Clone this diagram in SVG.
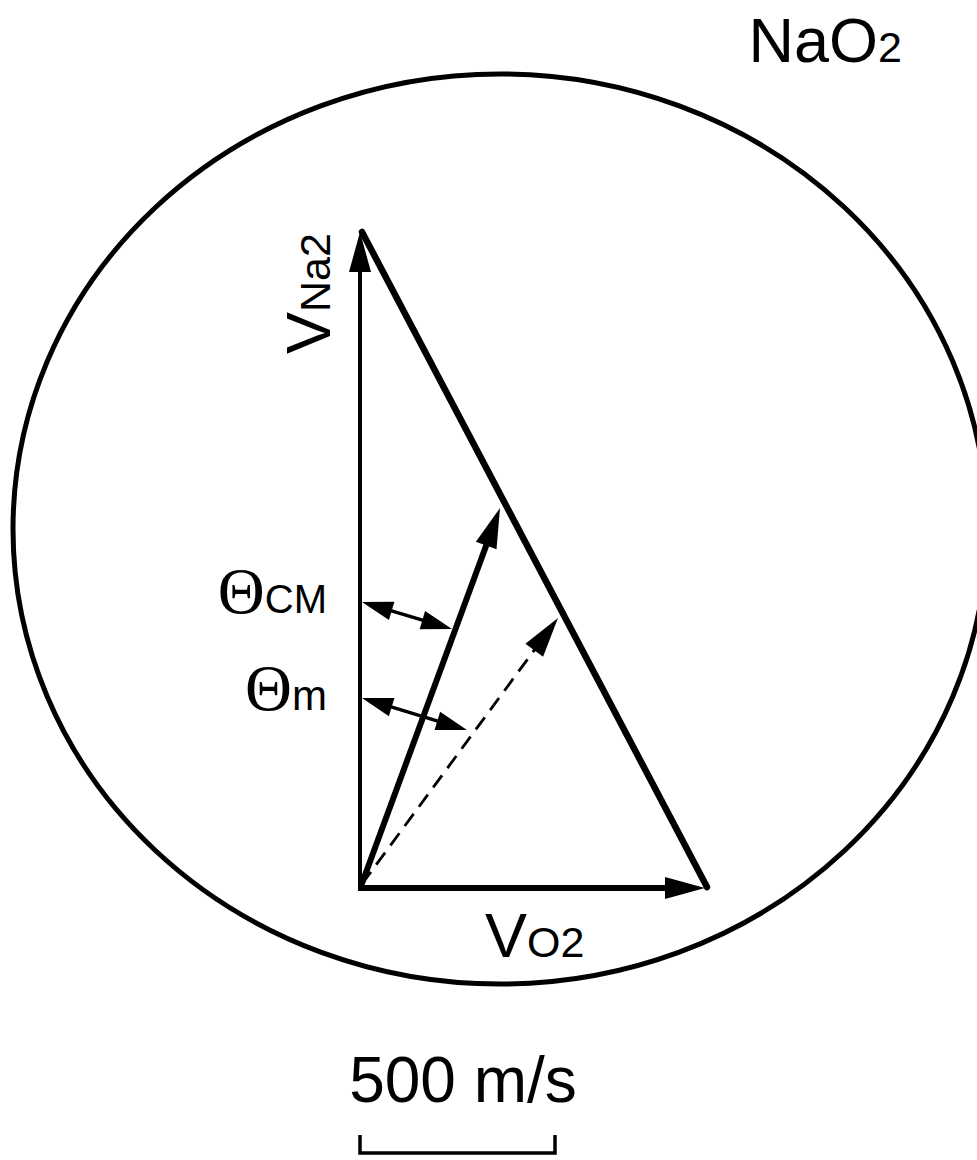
<svg xmlns="http://www.w3.org/2000/svg" width="977" height="1160" viewBox="0 0 977 1160">
<style>
.lbl{font-family:"Liberation Sans",Arial,Helvetica,sans-serif;fill:#000}
.th{font-family:"Liberation Serif","Times New Roman",serif;fill:#000}
.big{font-size:63px}
.sub{font-size:43px}
.ln{stroke:#000;fill:none}
</style>
<defs>
<marker id="ah" markerUnits="userSpaceOnUse" viewBox="-22 -13 44 26" markerWidth="44" markerHeight="26" refX="0" refY="0" orient="auto" overflow="visible">
<path d="M-20,-11 L20,0 L-20,11 Z" fill="#000"/>
</marker>
<marker id="as" markerUnits="userSpaceOnUse" viewBox="-16 -11 34 22" markerWidth="34" markerHeight="22" refX="0" refY="0" orient="auto-start-reverse" overflow="visible">
<path d="M-15,-9.5 L16,0 L-15,9.5 Z" fill="#000"/>
</marker>
</defs>
<rect width="977" height="1160" fill="#fff"/>
<g id="circle">
<ellipse cx="500" cy="529" rx="487" ry="455" class="ln" stroke-width="5"/>
</g>
<g id="connectors">
<line id="v-na2" x1="360" y1="890" x2="360" y2="252" class="ln" stroke-width="4" marker-end="url(#ah)"/>
<line id="v-o2" x1="358" y1="888" x2="685" y2="888" class="ln" stroke-width="6" marker-end="url(#ah)"/>
<line id="relative" x1="362" y1="232" x2="707" y2="887" class="ln" stroke-width="6.5" stroke-linecap="round"/>
<line id="cm" x1="361" y1="886" x2="493.1" y2="526.8" class="ln" stroke-width="6" marker-end="url(#ah)"/>
<line id="lab" x1="362" y1="884" x2="546.1" y2="634.1" class="ln" stroke-width="2.8" stroke-dasharray="15,9" marker-end="url(#ah)"/>
<line id="theta-cm" x1="377.3" y1="606.6" x2="436.7" y2="624.4" class="ln" stroke-width="3.5" marker-start="url(#as)" marker-end="url(#as)"/>
<line id="theta-m" x1="377.3" y1="702.7" x2="451.7" y2="725.3" class="ln" stroke-width="3.5" marker-start="url(#as)" marker-end="url(#as)"/>
</g>
<g id="label-nao2">
<text class="lbl" x="902" y="62" text-anchor="end"><tspan class="big">NaO</tspan><tspan class="sub">2</tspan></text>
</g>
<g id="label-vna2">
<text class="lbl" transform="translate(330,354) rotate(-90)"><tspan class="big">V</tspan><tspan class="sub">Na2</tspan></text>
</g>
<g id="label-vo2">
<text class="lbl" x="485" y="957"><tspan class="big">V</tspan><tspan class="sub">O2</tspan></text>
</g>
<g id="label-theta-cm">
<text x="327" y="613" text-anchor="end"><tspan class="th" font-size="65">Θ</tspan><tspan class="lbl" font-size="40">CM</tspan></text>
</g>
<g id="label-theta-m">
<text x="327" y="710" text-anchor="end"><tspan class="th" font-size="65">Θ</tspan><tspan class="lbl" font-size="42">m</tspan></text>
</g>
<g id="scale">
<text class="lbl" x="463" y="1102" text-anchor="middle" font-size="64">500 m/s</text>
<path d="M360,1135 L360,1153 L555,1153 L555,1135" class="ln" stroke-width="3.5"/>
</g>
</svg>
